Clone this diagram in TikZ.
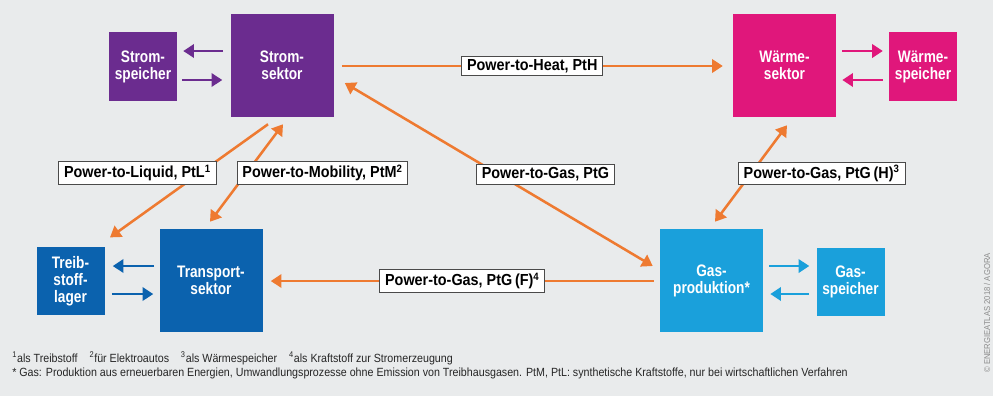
\documentclass[tikz,border=0pt]{standalone}
\usepackage{fontspec}
\setmainfont{Liberation Sans}[FakeStretch=0.9]
\newfontfamily\boxfont{Liberation Sans}[FakeStretch=0.82]
\usetikzlibrary{arrows.meta,calc}
\definecolor{bg}{HTML}{E9EBEC}
\definecolor{cstrom}{HTML}{6B2C8F}
\definecolor{cwaerme}{HTML}{E0177B}
\definecolor{ctrans}{HTML}{0B62AE}
\definecolor{cgas}{HTML}{1AA0DB}
\definecolor{corange}{HTML}{EE7A31}
\definecolor{cframe}{HTML}{4A4A4A}
\begin{document}
\begin{tikzpicture}[x=0.75pt,y=-0.75pt,
  sector/.style={fill=#1, text=white, font=\boxfont\bfseries\fontsize{12.5}{12.75}\selectfont, align=center, inner sep=0pt, minimum width=77.25pt, minimum height=77.25pt},
  store/.style={fill=#1, text=white, font=\boxfont\bfseries\fontsize{12.5}{12.75}\selectfont, align=center, inner sep=0pt, minimum width=51pt, minimum height=51.5pt},
  flow/.style={draw=corange, line width=1.9pt},
  pair/.style={draw=#1, line width=1.9pt, -{Triangle[length=8pt,width=10pt]}},
  otip/.style={-{Triangle[length=8pt,width=10pt]}},
  dtip/.style={{Triangle[length=8pt,width=10pt]}-{Triangle[length=8pt,width=10pt]}},
  lbl/.style={draw=cframe, line width=0.6pt, fill=white, text=black, font=\bfseries\fontsize{12}{14}\selectfont, inner xsep=4pt, inner ysep=2.2pt},
  note/.style={font=\fontsize{8.9}{10}\selectfont, anchor=west, inner sep=0pt, text=black!85}
]
\fill[bg] (0,0) rectangle (993,396);
\useasboundingbox (0,0) rectangle (993,396);

% sectors
\node[sector=cstrom] (strsek) at (282,65.5) {Strom-\\sektor};
\node[sector=cwaerme] (waerm) at (784.5,65.5) {Wärme-\\sektor};
\node[sector=ctrans] (trans) at (211,280.5) {Transport-\\sektor};
\node[sector=cgas] (gas) at (711.5,280.5) {Gas-\\produktion*};
% stores
\node[store=cstrom] (strsp) at (143,66.5) {Strom-\\speicher};
\node[store=cwaerme] (waersp) at (923,66.5) {Wärme-\\speicher};
\node[store=ctrans] (treib) at (70.5,281) {Treib-\\stoff-\\lager};
\node[store=cgas] (gassp) at (850.5,282) {Gas-\\speicher};

% storage exchange arrows
\draw[pair=cstrom] ($(strsek.west)+(-7,-14.5)$) -- ($(strsp.east)+(6,-15.5)$);
\draw[pair=cstrom] ($(strsp.east)+(5,13.5)$) -- ($(strsek.west)+(-8,14.5)$);
\draw[pair=cwaerme] ($(waerm.east)+(6,-14.5)$) -- ($(waersp.west)+(-6,-15.5)$);
\draw[pair=cwaerme] ($(waersp.west)+(-6,13.5)$) -- ($(waerm.east)+(6,14.5)$);
\draw[pair=ctrans] ($(trans.west)+(-5,-14.5)$) -- ($(treib.east)+(8,-15)$);
\draw[pair=ctrans] ($(treib.east)+(7,13)$) -- ($(trans.west)+(-6,13.5)$);
\draw[pair=cgas] ($(gas.east)+(6,-14.5)$) -- ($(gassp.west)+(-7,-16)$);
\draw[pair=cgas] ($(gassp.west)+(-7,12)$) -- ($(gas.east)+(7,13.5)$);

% power-to-X flows
\draw[flow,otip] ($(strsek.east)+(8,0.5)$) -- node[lbl] {Power-to-Heat, PtH} ($(waerm.west)+(-10,0.5)$);
\draw[flow,dtip] ($(strsek.east)+(11,17.5)$) -- node[lbl, pos=0.5, xshift=35pt] {Power-to-Gas, PtG} ($(gas.west)+(-7,-14.5)$);
\draw[flow,dtip] ($(waerm.south)+(2.5,8)$) -- node[lbl, pos=0.5, xshift=53pt] {Power-to-Gas, PtG\,(H)\textsuperscript{3}} ($(gas.north)+(3.5,-7)$);
\draw[flow,otip] ($(gas.west)+(-6,0.5)$) -- node[lbl] {Power-to-Gas, PtG\,(F)\textsuperscript{4}} ($(trans.east)+(8,0.5)$);
\draw[flow,otip] ($(strsek.south)+(-14,7)$) -- node[lbl, pos=0.43, xshift=-47pt] {Power-to-Liquid, PtL\textsuperscript{1}} ($(treib.north)+(39.5,-9)$);
\draw[flow,dtip] ($(strsek.south)+(1,7)$) -- node[lbl, pos=0.5, xshift=57pt] {Power-to-Mobility, PtM\textsuperscript{2}} ($(trans.north)+(-1,-7)$);

% notes
\node[note] (n1) at (12,358) {\textsuperscript{1}als Treibstoff\quad\textsuperscript{2}für Elektroautos\quad\textsuperscript{3}als Wärmespeicher\quad\textsuperscript{4}als Kraftstoff zur Stromerzeugung};
\node[note] (n2) at (12,373) {* Gas: Produktion aus erneuerbaren Energien, Umwandlungsprozesse ohne Emission von Treibhausgasen. PtM, PtL: synthetische Kraftstoffe, nur bei wirtschaftlichen Verfahren};
\node[rotate=90, font=\fontsize{6.4}{7}\selectfont, text=black!45, inner sep=0pt] (copy) at (987,313) {© ENERGIEATLAS 2018 / AGORA};
\end{tikzpicture}
\end{document}
